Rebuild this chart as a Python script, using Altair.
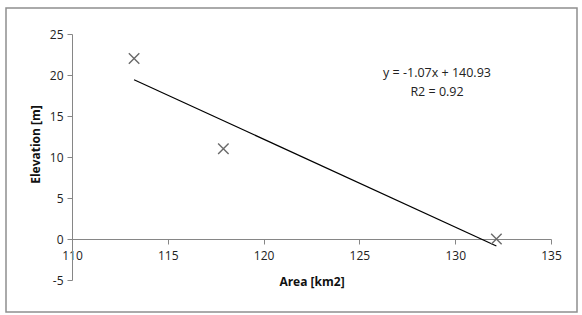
import altair as alt
import pandas as pd

# data
area = [113.24, 117.9, 132.15]
elevation = [22.0, 11.0, 0.0]
x_ticks = [110, 115, 120, 125, 130, 135]
y_ticks = [-5, 0, 5, 10, 15, 20, 25]
equation_lines = ["y = -1.07x + 140.93", "R2 = 0.92"]

df = pd.DataFrame({"Area": area, "Elevation": elevation})

FONT = "Open Sans"
W, H = 479, 246
FS = 12

x_scale = alt.Scale(domain=[110, 135], nice=False, zero=False)
y_scale = alt.Scale(domain=[-5, 25], nice=False, zero=False)

x_axis = alt.Axis(
    title="Area [km2]", values=x_ticks, grid=False, offset=-41,
    domainColor="#868686", tickColor="#868686", tickSize=5,
    labelPadding=6, labelFontSize=FS, labelFont=FONT, labelColor="#222222",
    titleFont=FONT, titleFontSize=FS, titleFontWeight="bold", titleColor="#111111",
    titleY=42, titleBaseline="middle", labelFlush=False,
    labelExpr="datum.value",
)
y_axis = alt.Axis(
    title="Elevation [m]", values=y_ticks, grid=False,
    domainColor="#868686", tickColor="#868686", tickSize=5,
    labelPadding=4, labelFontSize=FS, labelFont=FONT, labelColor="#222222",
    titleFont=FONT, titleFontSize=FS, titleFontWeight="bold", titleColor="#111111",
    titleX=-37, titleY=110, titleAngle=270, titleBaseline="middle", titleAlign="center",
    labelFlush=False, labelExpr="datum.value",
)

base = alt.Chart(df)

border = alt.Chart(pd.DataFrame({"a": [0]})).mark_rect(
    fill=None, stroke="#8f8f8f", strokeWidth=1.5
).encode(
    x=alt.value(-66), x2=alt.value(505), y=alt.value(-26), y2=alt.value(278)
)

points = base.mark_point(
    shape="M -1 -1 L 1 1 M -1 1 L 1 -1", filled=False, size=110,
    color="#6a6a6a", strokeWidth=1.4, opacity=1
).encode(
    x=alt.X("Area:Q", scale=x_scale, axis=x_axis),
    y=alt.Y("Elevation:Q", scale=y_scale, axis=y_axis),
)

trend = base.transform_regression("Area", "Elevation").mark_line(
    color="#000000", strokeWidth=1.2
).encode(
    x=alt.X("Area:Q", scale=x_scale),
    y=alt.Y("Elevation:Q", scale=y_scale),
)

eq_layers = []
for i, line in enumerate(equation_lines):
    eq_layers.append(
        alt.Chart(pd.DataFrame({"text": [line]})).mark_text(
            font=FONT, fontSize=12.5, color="#222222", align="center", baseline="middle"
        ).encode(
            x=alt.value(365),
            y=alt.value(39 + 19 * i),
            text="text:N",
        )
    )

chart = alt.layer(border, trend, points, *eq_layers).properties(
    width=W, height=H,
    autosize=alt.AutoSizeParams(type="none"),
    padding={"left": 72, "top": 34, "right": 31, "bottom": 35},
    background="white",
).configure_view(stroke=None)

chart.save("out.html", embed_options={"renderer": "svg", "actions": False})
